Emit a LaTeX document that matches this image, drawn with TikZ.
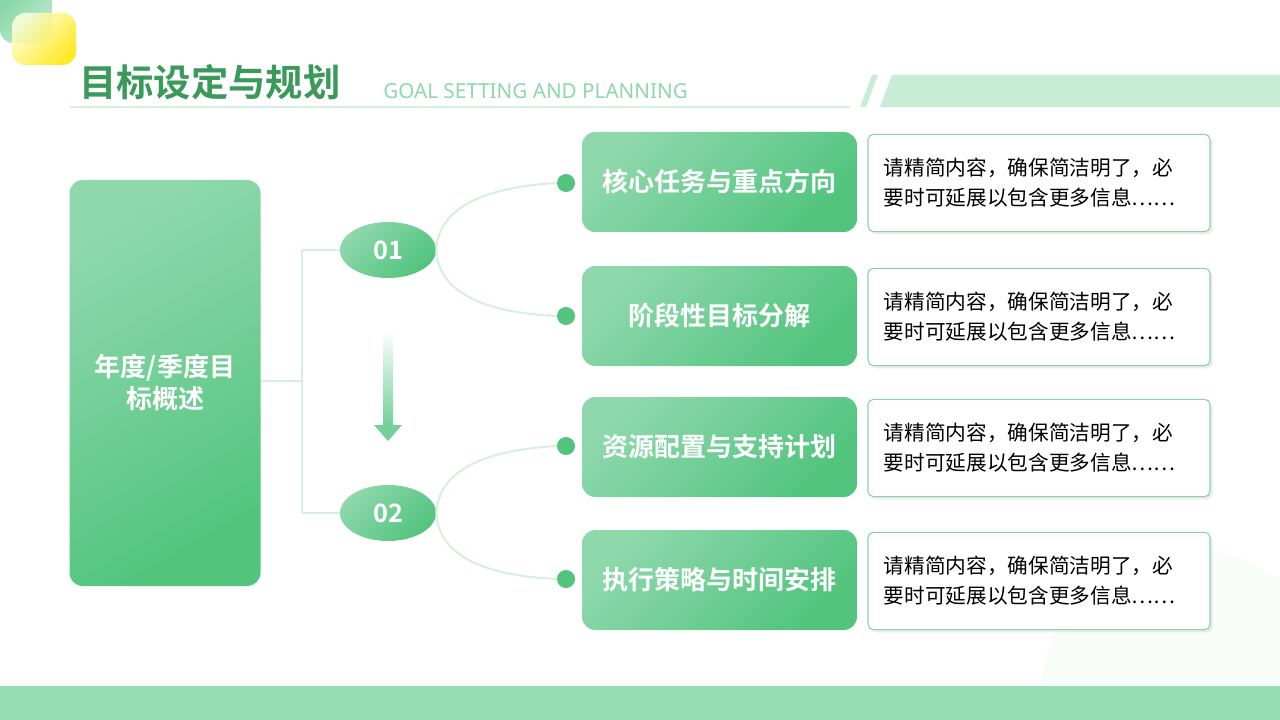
\documentclass[tikz,border=0pt]{standalone}
\usepackage{fontspec}
\setmainfont{Noto Sans CJK SC}
\newfontfamily\cjkb{Noto Sans CJK SC Bold}
\newfontfamily\lat{Noto Sans}
\usetikzlibrary{shadows,shapes.geometric}
\definecolor{gA}{HTML}{52C47E}
\definecolor{gL}{HTML}{8ED8AC}
\definecolor{gT}{HTML}{3A9A5A}
\definecolor{gline}{HTML}{D6EFE0}
\definecolor{band}{HTML}{C8ECD6}
\definecolor{bot}{HTML}{98DCB4}
\begin{document}
\begin{tikzpicture}[x=0.75pt,y=-0.75pt,
  gbox/.style={rounded corners=10pt,top color=gL,bottom color=gA,shading angle=45},
  wbox/.style={draw=gA!70,line width=0.8pt,fill=white,rounded corners=4pt,drop shadow={opacity=0.15,shadow xshift=2pt,shadow yshift=-2pt}},
  conn/.style={gline,line width=1.5pt},
  dot/.style={circle,fill=gA,inner sep=0pt,minimum size=13.5pt},
  btxt/.style={text=white,font=\cjkb\fontsize{19.5}{24}\selectfont},
  wtxt/.style={text=black,font=\fontsize{15.5}{22.5}\selectfont,align=left}]
\useasboundingbox (0,0) rectangle (1280,720);
\fill[white] (0,0) rectangle (1280,720);
\begin{scope}
\clip (0,0) rectangle (1280,686);
\fill[gA!4] (1190,700) circle (150);
\end{scope}
% deco
\shade[rounded corners=10pt,top color=gA!70,bottom color=gA!35,shading angle=45] (0,-10) rectangle (52,43);
\shade[rounded corners=10pt,top color=yellow!15,bottom color=yellow!80!orange,shading angle=45,opacity=0.85] (12,13) rectangle (76,65);
% title
\node[anchor=west,text=gT,font=\cjkb\fontsize{28}{32}\selectfont,inner sep=0] (title) at (79,82) {目标设定与规划};
\node[anchor=west,text=gL,font=\lat\fontsize{15.5}{18}\selectfont,inner sep=0] (sub) at (383,91) {GOAL SETTING AND PLANNING};
\draw[gline,line width=1.2pt] (70,107) -- (850,107);
\fill[band] (860,107) -- (872,75) -- (878,75) -- (866,107) -- cycle;
\fill[band] (880,107) -- (892,75) -- (1280,75) -- (1280,107) -- cycle;
\fill[bot] (0,686) rectangle (1280,720);
% left box
\node[gbox,minimum width=143.25pt,minimum height=304.5pt,shading angle=30] (main) at (165,383) {};
\node[btxt,align=center,font=\cjkb\fontsize{19.5}{24}\selectfont] (maint) at (165,383) {年度/季度目\\标概述};
\coordinate (j) at (302,381);
\coordinate (j1) at (302,250);
\coordinate (j2) at (302,513);
\node[ellipse,minimum width=72pt,minimum height=42pt,inner sep=0,top color=gL,bottom color=gA,shading angle=45] (e1) at (388,250) {};
\node[ellipse,minimum width=72pt,minimum height=42pt,inner sep=0,top color=gL,bottom color=gA,shading angle=45] (e2) at (388,513) {};
\node[text=white,font=\cjkb\fontsize{19}{20}\selectfont] at (e1) {01};
\node[text=white,font=\cjkb\fontsize{19}{20}\selectfont] at (e2) {02};
\draw[conn] (main.east |- j) -- (j) (j1) -- (j2) (j1) -- (e1.west) (j2) -- (e2.west);
\shade[top color=white,bottom color=gA!80] (383,330) rectangle (393,425);
\fill[gA!80] (374,425) -- (402,425) -- (388,441) -- cycle;
\node[dot] (d1) at (566,183) {};
\node[dot] (d2) at (566,316) {};
\node[dot] (d3) at (566,446) {};
\node[dot] (d4) at (566,579) {};
\draw[conn] (d1.west) .. controls (470,188) and (438,215) .. (e1.east) .. controls (438,285) and (470,312) .. (d2.west);
\draw[conn] (d3.west) .. controls (470,451) and (438,478) .. (e2.east) .. controls (438,548) and (470,575) .. (d4.west);
\foreach \y/\t [count=\i] in {182/核心任务与重点方向,316/阶段性目标分解,447/资源配置与支持计划,580/执行策略与时间安排}{
  \node[gbox,minimum width=206.25pt,minimum height=75pt] (g\i) at (719.5,\y) {};
  \node[btxt] at (g\i) {\t};
  \node[wbox,minimum width=256.5pt,minimum height=73pt] (w\i) at (1039,\y+1) {};
  \node[wtxt,anchor=west] at (879,\y+1) {请精简内容，确保简洁明了，必\\要时可延展以包含更多信息……};
}
\end{tikzpicture}
\end{document}
